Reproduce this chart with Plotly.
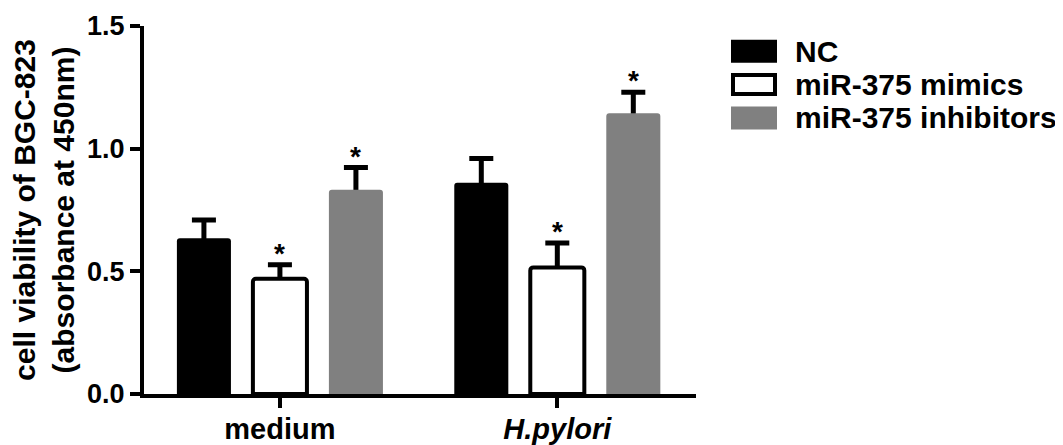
import plotly.graph_objects as go

# ---- data ----
categories = ["medium", "H.pylori"]
tick_labels = ["medium", "<i>H.pylori</i>"]
series_names = ["NC", "miR-375 mimics", "miR-375 inhibitors"]
nc_values = [0.635, 0.861]
nc_errors = [0.074, 0.099]
mimics_values = [0.470, 0.516]
mimics_errors = [0.057, 0.099]
inhibitor_values = [0.833, 1.144]
inhibitor_errors = [0.090, 0.086]
significance = [[False, False], [True, True], [True, True]]
y_ticks = [0.0, 0.5, 1.0, 1.5]

values = [nc_values, mimics_values, inhibitor_values]
errors = [nc_errors, mimics_errors, inhibitor_errors]

# ---- styles ----
fills = ["#000000", "#ffffff", "#808080"]
outline_w = [0, 4, 0]
FONT = "Liberation Sans, Arial, Helvetica, sans-serif"

OFF = 8  # default page (body) margin of the browser
SCREEN_W, SCREEN_H = 1063, 445
W, H = SCREEN_W - OFF, SCREEN_H - OFF
# plot area in screen pixels
PLOT_LEFT, PLOT_RIGHT, PLOT_TOP, PLOT_BOTTOM = 144, 696, 26, 394
L, T = PLOT_LEFT - OFF, PLOT_TOP - OFF
R, B = W - (PLOT_RIGHT - OFF), H - (PLOT_BOTTOM - OFF)
PW, PH = PLOT_RIGHT - PLOT_LEFT, PLOT_BOTTOM - PLOT_TOP
X_RANGE = [-0.49, 1.5]
BARGAP = 0.178
BARGROUPGAP = 0.289
n_series = len(series_names)
slot_px = PW / (X_RANGE[1] - X_RANGE[0]) * (1 - BARGAP) / n_series

fig = go.Figure()

# error bars first (drawn underneath the opaque bars, so only the upper part shows)
for i in range(n_series):
    fig.add_trace(go.Bar(
        x=categories, y=values[i], offsetgroup=str(i),
        marker=dict(color="rgba(0,0,0,0)", line=dict(width=0)),
        error_y=dict(type="data", array=errors[i], visible=True,
                     color="black", thickness=5, width=12),
        showlegend=False, hoverinfo="skip",
    ))

for i in range(n_series):
    fig.add_trace(go.Bar(
        x=categories, y=values[i], offsetgroup=str(i), name=series_names[i],
        marker=dict(color=fills[i], cornerradius=3,
                    line=dict(color="black", width=outline_w[i])),
        showlegend=False,
    ))

annotations = []
# significance asterisks above the error caps
for i in range(n_series):
    for j, cat in enumerate(categories):
        if significance[i][j]:
            annotations.append(dict(
                x=cat, xref="x", y=values[i][j] + errors[i][j], yref="y",
                text="*", showarrow=False, yanchor="bottom",
                xshift=(i - (n_series - 1) / 2) * slot_px, yshift=-6,
                font=dict(family=FONT, size=28, color="black", weight="bold"),
            ))

# custom legend (large swatches like the reference), screen pixel -> paper
def pxx(px):
    return (px - PLOT_LEFT) / PW

def pyy(py):
    return (PLOT_BOTTOM - py) / PH

shapes = []
row0, pitch = 51.3, 33.3
for i in range(n_series):
    cy = row0 + i * pitch
    inset = outline_w[i] / 2
    shapes.append(dict(
        type="rect", xref="paper", yref="paper",
        x0=pxx(731 + inset), x1=pxx(777 - inset),
        y0=pyy(cy + 11.5 - inset), y1=pyy(cy - 11.5 + inset),
        fillcolor=fills[i],
        line=dict(color="black", width=outline_w[i]) if outline_w[i] else dict(width=0),
    ))
    annotations.append(dict(
        x=pxx(793), xref="paper", y=pyy(cy), yref="paper",
        text=series_names[i], showarrow=False, xanchor="left", yanchor="middle",
        font=dict(family=FONT, size=30, color="black", weight="bold"),
    ))

fig.update_layout(
    width=W, height=H,
    margin=dict(l=L, r=R, t=T, b=B, autoexpand=False),
    paper_bgcolor="white", plot_bgcolor="white",
    barmode="group", bargap=BARGAP, bargroupgap=BARGROUPGAP,
    showlegend=False,
    annotations=annotations, shapes=shapes,
    font=dict(family=FONT, color="black"),
    xaxis=dict(
        type="category", range=X_RANGE,
        tickvals=categories, ticktext=tick_labels,
        showline=True, linewidth=4, linecolor="black",
        ticks="outside", ticklen=10, tickwidth=4, tickcolor="black",
        ticklabelstandoff=-4,
        showgrid=False, zeroline=False,
        tickfont=dict(family=FONT, size=29, color="black", weight="bold"),
    ),
    yaxis=dict(
        range=[0, 1.5], tickvals=y_ticks, tickformat=".1f",
        showline=True, linewidth=4, linecolor="black",
        ticks="outside", ticklen=10, tickwidth=4, tickcolor="black",
        showgrid=False, zeroline=False,
        tickfont=dict(family=FONT, size=27, color="black", weight="bold"),
        title=dict(text="cell viability of BGC-823<br>(absorbance at 450nm)",
                   standoff=8,
                   font=dict(family=FONT, size=30, color="black", weight="bold")),
    ),
)

fig.write_html("out.html")
